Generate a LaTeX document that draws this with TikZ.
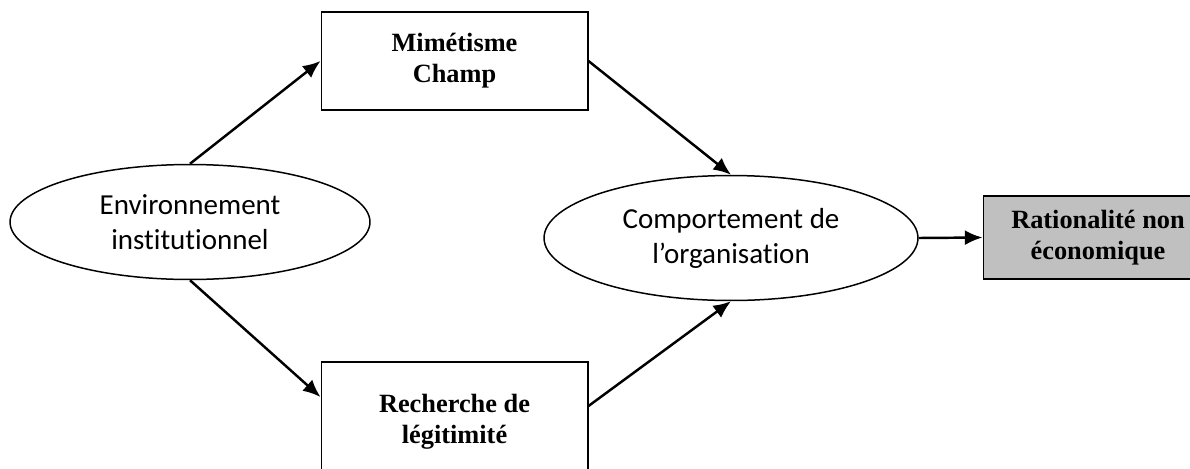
\documentclass[tikz,border=0pt]{standalone}
\usepackage{fontspec}
\setmainfont{Liberation Serif}
\newfontfamily\calibri[Ligatures=NoCommon]{Carlito}
\usepackage{xcolor}
\usepackage{tikz}
\usetikzlibrary{calc}
\usetikzlibrary{arrows.meta}
\usetikzlibrary{shapes}
\usetikzlibrary{shapes.geometric}

\definecolor{grisbox}{RGB}{192,192,192}

\begin{document}
\begin{tikzpicture}[x=0.02cm, y=0.02cm]
\useasboundingbox (0, 0) rectangle (1190, 468);
\node [ellipse, draw=black, line width=0.85pt, minimum width=7.2cm, minimum height=2.3cm, inner sep=0pt, align=center, font=\calibri\fontsize{16.5}{19.9}\selectfont] (Env) at (190, 246) {Environnement\\institutionnel};
\node [rectangle, draw=black, line width=0.6pt, minimum width=5.34cm, minimum height=1.96cm, align=center, font=\bfseries\fontsize{15}{17.6}\selectfont] (Mim) at (454.5, 407) {Mimétisme\\Champ};
\node [rectangle, draw=black, line width=0.6pt, minimum width=5.34cm, minimum height=2.4cm, align=center, font=\bfseries\fontsize{15}{17.6}\selectfont] (Rech) at (454.5, 46) {Recherche de\\légitimité};
\node [ellipse, draw=black, line width=0.85pt, minimum width=7.48cm, minimum height=2.5cm, inner sep=0pt, align=center, font=\calibri\fontsize{16.5}{19.9}\selectfont] (Comp) at (731, 230) {Comportement de\\l’organisation};
\node [rectangle, draw=black, fill=grisbox, line width=0.6pt, minimum width=4.6cm, minimum height=1.66cm, align=center, font=\bfseries\fontsize{15}{17.6}\selectfont] (Rat) at (1098, 230.5) {Rationalité non\\économique};
\draw [-{Latex[length=10pt, width=8.5pt]}, line width=1.4pt, draw=black] (Env.north) to (Mim.west);
\draw [-{Latex[length=10pt, width=8.5pt]}, line width=1.4pt, draw=black] (Env.south) to ([yshift=0.5cm]Rech.west);
\draw [-{Latex[length=10pt, width=8.5pt]}, line width=1.4pt, draw=black] (Mim.east) to (Comp.north);
\draw [-{Latex[length=10pt, width=8.5pt]}, line width=1.4pt, draw=black] ([yshift=0.32cm]Rech.east) to (Comp.south);
\draw [-{Latex[length=10pt, width=8.5pt]}, line width=1.4pt, draw=black] (Comp.east) to (Rat.west);
\end{tikzpicture}
\end{document}
